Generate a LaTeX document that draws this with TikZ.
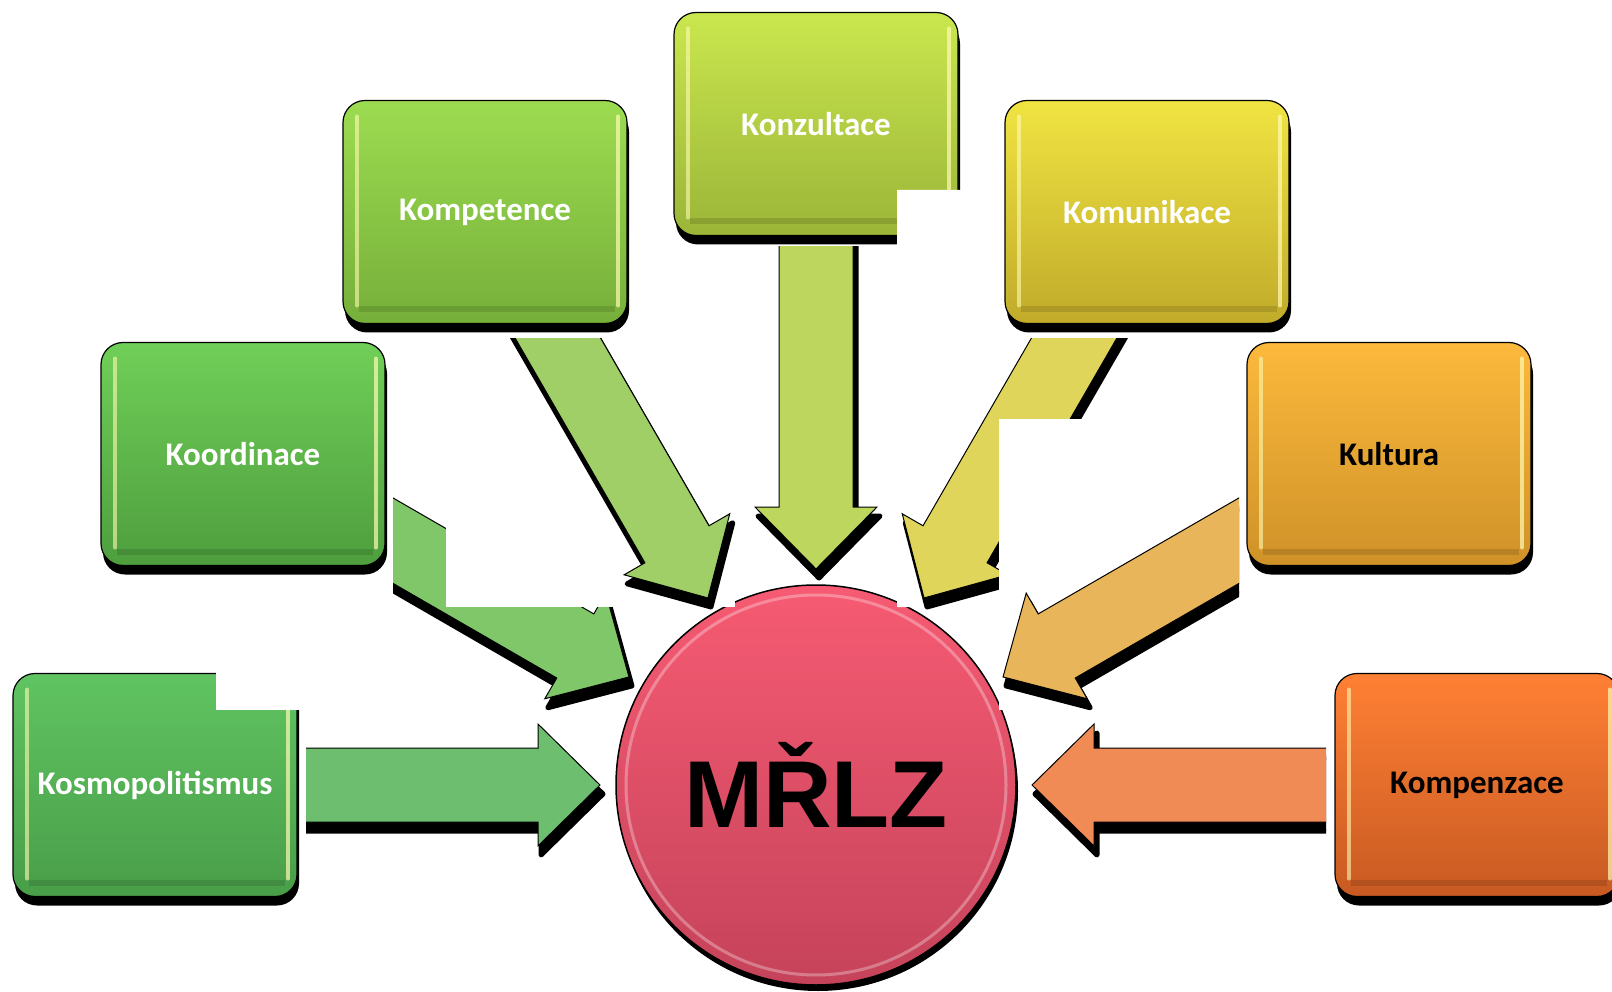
\documentclass[tikz,border=0pt]{standalone}
\usepackage{fontspec}
\setmainfont{Carlito}
\newfontfamily\mrlzfont{Liberation Sans}
\usetikzlibrary{shadows,calc}

\definecolor{kosmoTop}{HTML}{60C462}
\definecolor{kosmoBot}{HTML}{499E48}
\definecolor{kosmoArr}{HTML}{6EBE70}
\definecolor{koordTop}{HTML}{70CF58}
\definecolor{koordBot}{HTML}{4E9E3E}
\definecolor{koordArr}{HTML}{80C76A}
\definecolor{kompetTop}{HTML}{9CDC50}
\definecolor{kompetBot}{HTML}{76AF3A}
\definecolor{kompetArr}{HTML}{9FCF66}
\definecolor{konzulTop}{HTML}{CAE74E}
\definecolor{konzulBot}{HTML}{9BB538}
\definecolor{konzulArr}{HTML}{BDD65E}
\definecolor{komunTop}{HTML}{F0E442}
\definecolor{komunBot}{HTML}{C1AB2A}
\definecolor{komunArr}{HTML}{E0D55B}
\definecolor{kultTop}{HTML}{FCB93C}
\definecolor{kultBot}{HTML}{CF9228}
\definecolor{kultArr}{HTML}{E9B55A}
\definecolor{kompenTop}{HTML}{FF8034}
\definecolor{kompenBot}{HTML}{C85A22}
\definecolor{kompenArr}{HTML}{F08B55}
\definecolor{hubTop}{HTML}{F65B73}
\definecolor{hubBot}{HTML}{C5435A}

% block arrow from box #1 to hub #2, colour #3, cut by clip #4
\newcommand{\arrowpath}{(216,0) -- (278,61) -- (278,37) -- (640,37) -- (640,-37) -- (278,-37) -- (278,-61) -- cycle}
\newcommand{\blockarrow}[4]{%
  \path (#2.center); \pgfgetlastxy{\cx}{\cy}%
  \path (#1.center); \pgfgetlastxy{\bx}{\by}%
  \pgfmathsetmacro{\ang}{atan2((\by)-(\cy),(\bx)-(\cx))}%
  \begin{scope}
    \clip #4;
    \begin{scope}[shift={(#2.center)}, xshift=3pt, yshift=-9pt, rotate=\ang]
      \filldraw[black, line width=5pt, line join=round] \arrowpath;
    \end{scope}
    \begin{scope}[shift={(#2.center)}, rotate=\ang]
      \filldraw[fill=#3, draw=black, line width=1pt] \arrowpath;
    \end{scope}
  \end{scope}}

\begin{document}
\begin{tikzpicture}[x=1pt, y=-1pt,
    box/.style={rounded corners=22pt, minimum width=284pt, minimum height=223pt,
      draw=black, line width=1.2pt, text=white, font=\fontsize{33}{39}\selectfont\bfseries,
      drop shadow={shadow xshift=2pt, shadow yshift=-9pt, fill=black, opacity=1},
      path picture={
        \draw[yellow!30, opacity=.6, line width=4pt, line cap=round]
          ([shift={(14pt,-16pt)}]path picture bounding box.north west) --
          ([shift={(14pt,18pt)}]path picture bounding box.south west);
        \draw[yellow!30, opacity=.7, line width=4pt, line cap=round]
          ([shift={(-9pt,-16pt)}]path picture bounding box.north east) --
          ([shift={(-9pt,18pt)}]path picture bounding box.south east);
        \draw[black, opacity=.12, line width=6pt]
          ([shift={(16pt,14pt)}]path picture bounding box.south west) --
          ([shift={(-12pt,14pt)}]path picture bounding box.south east);}},
    hub/.style={circle, minimum size=400pt, draw=black, line width=1.5pt,
      top color=hubTop, bottom color=hubBot,
      drop shadow={shadow xshift=2pt, shadow yshift=-6pt, fill=black, opacity=1},
      path picture={\draw[white, opacity=.3, line width=3pt]
        (path picture bounding box.center) circle (190pt);},
      font=\mrlzfont\bfseries\fontsize{95}{100}\selectfont}]
    \fill[white] (0,0) rectangle (1612,992);
    \path[use as bounding box] (0,0) rectangle (1612,992);

    \node[hub] (mrlz) at (816,785) {MŘLZ};

    \node[box, top color=kosmoTop, bottom color=kosmoBot] (kosmo) at (155,785) {Kosmopolitismus};
    \node[box, top color=koordTop, bottom color=koordBot] (koord) at (243,454) {Koordinace};
    \node[box, top color=kompetTop, bottom color=kompetBot] (kompet) at (485,212) {Kompetence};
    \node[box, top color=konzulTop, bottom color=konzulBot] (konzul) at (816,124) {Konzultace};
    \node[box, top color=komunTop, bottom color=komunBot] (komun) at (1147,212) {Komunikace};
    \node[box, top color=kultTop, bottom color=kultBot, text=black] (kult) at (1389,454) {Kultura};
    \node[box, top color=kompenTop, bottom color=kompenBot, text=black] (kompen) at (1477,785) {Kompenzace};

    % blank patches as in the picture
    \fill[white] (216,672) rectangle (310,710);

    \blockarrow{kosmo}{mrlz}{kosmoArr}{(306,0) rectangle (1612,992)}
    \blockarrow{konzul}{mrlz}{konzulArr}{(0,247) rectangle (1612,992)}
    \blockarrow{koord}{mrlz}{koordArr}{(393,0) rectangle (1612,992)}

    \fill[white] (446,339) rectangle (735,607);
    \blockarrow{kompet}{mrlz}{kompetArr}{(0,339) rectangle (1612,992)}

    \fill[white] (897,190) -- (1001,190) -- (1001,341) -- (1186,341) -- (1186,607) -- (897,607) -- cycle;
    \blockarrow{komun}{mrlz}{komunArr}{(0,339) rectangle (1612,992)}

    \fill[white] (999,419) rectangle (1239,710);
    \blockarrow{kult}{mrlz}{kultArr}{(0,0) rectangle (1239,992)}
    \blockarrow{kompen}{mrlz}{kompenArr}{(0,0) rectangle (1326,992)}
\end{tikzpicture}
\end{document}
